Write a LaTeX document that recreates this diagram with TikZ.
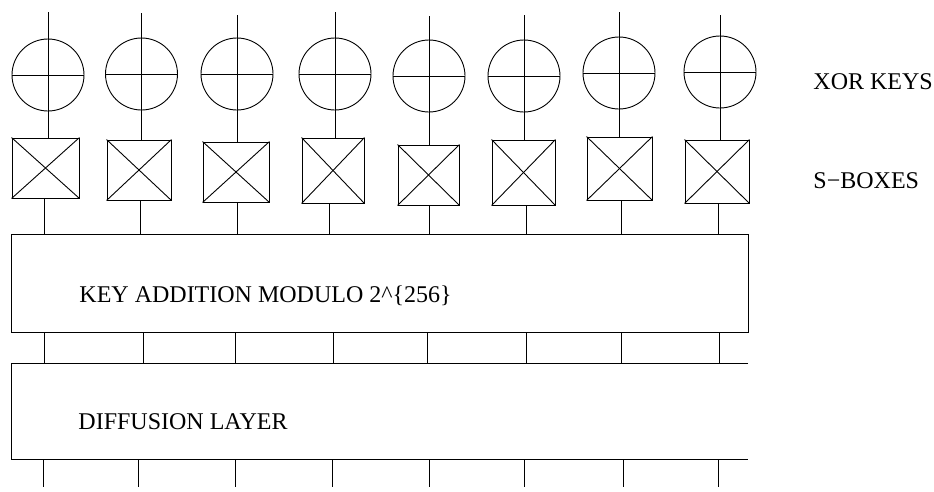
\documentclass[tikz,border=0pt]{standalone}
\usepackage{fontspec}
\setmainfont{Liberation Serif}
\begin{document}
\begin{tikzpicture}[x=1pt,y=-1pt,line width=0.9pt,
  xorc/.style={draw,circle,minimum size=72pt,inner sep=0pt},
  sbox/.style={draw,rectangle,inner sep=0pt},
  lbl/.style={anchor=base west,inner sep=0pt,font=\fontsize{24}{28}\selectfont}]
\useasboundingbox (0,0) rectangle (934,491);
% key addition block
\node[draw,rectangle,inner sep=0pt,minimum width=737pt,minimum height=98pt] (ka) at (379.5,283) {};
% diffusion layer (open on the right)
\coordinate (dtl) at (11,363);
\coordinate (dtr) at (748,363);
\coordinate (dbl) at (11,459);
\coordinate (dbr) at (748,459);
\draw (dtr) -- (dtl) -- (dbl) -- (dbr);
% columns
\foreach \i/\cx/\cy/\ty/\bl/\br/\bt/\bb/\lb/\mx/\ox in {
  1/48/75/12/12/79/138/198/44/44/43,
  2/141.5/74/13/107/171/140/200/140/143/138,
  3/237/74/15/203/269/142/202/237/235/235,
  4/335/74/12/302/364/138/203/329/333/332,
  5/429/76/16/398/459/145/205/429/427/429,
  6/524/76/15/492/555/140/205/526/526/524,
  7/619/73/12/587/652/137/200/621/621/623,
  8/720/72/15/685/749/140/203/718/719/718}{
  \node[xorc] (c\i) at (\cx,\cy) {};
  \coordinate (t\i) at (\cx,\ty);
  \node[sbox,minimum width={(\br-\bl)*1pt},minimum height={(\bb-\bt)*1pt}]
    (b\i) at ({(\bl+\br)/2},{(\bt+\bb)/2}) {};
  \draw (c\i.west) -- (c\i.east);
  \draw (t\i) -- (t\i |- b\i.north);
  \draw (b\i.north west) -- (b\i.south east);
  \draw (b\i.north east) -- (b\i.south west);
  \coordinate (s\i) at (\lb,\bb);
  \draw (s\i) -- (s\i |- ka.north);
  \coordinate (m\i) at (\mx,332);
  \draw (m\i) -- (m\i |- dtl);
  \coordinate (o\i) at (\ox,487);
  \draw (o\i |- dbl) -- (o\i);
}
% labels
\node[lbl] (xk) at (813,89) {XOR KEYS};
\node[lbl] (sb) at (813,188) {S−BOXES};
\node[lbl] (kat) at (79,302) {KEY ADDITION MODULO 2\textasciicircum\{256\}};
\node[lbl] (dl) at (78,429) {DIFFUSION LAYER};
\end{tikzpicture}
\end{document}
